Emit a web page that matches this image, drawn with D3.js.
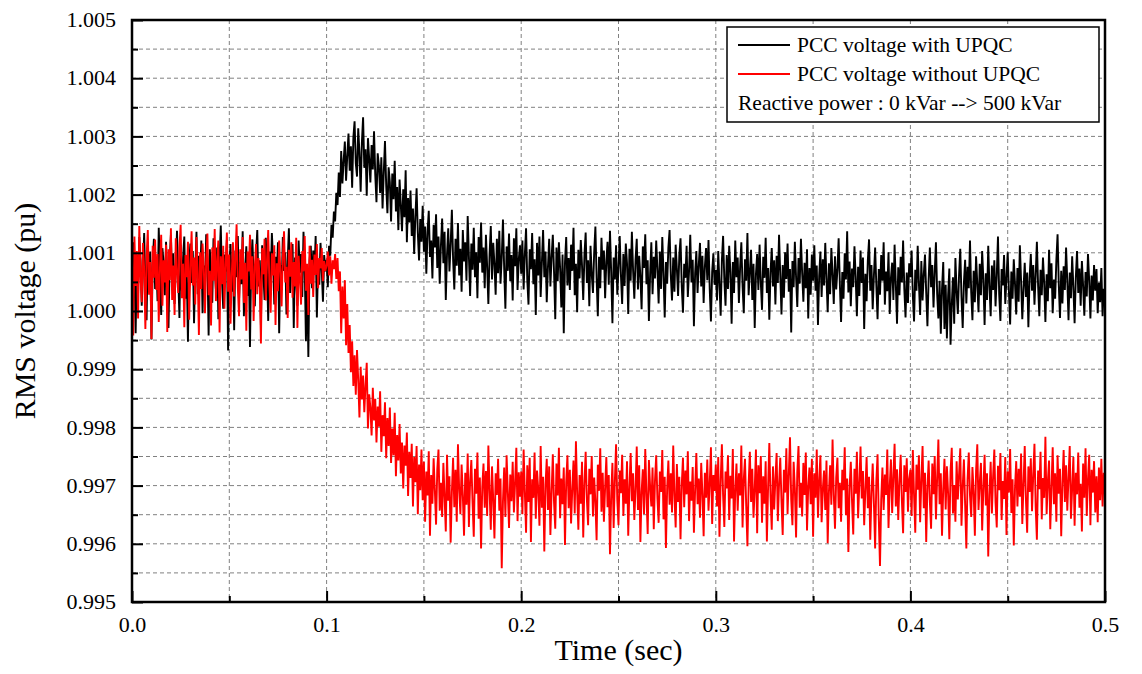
<!DOCTYPE html>
<html lang="en">
<head>
<meta charset="UTF-8">
<title>PCC RMS voltage</title>
<script src="https://d3js.org/d3.v7.min.js"></script>
<style>
    body { margin: 0; background: #fff; }
    svg { display: block; font-family: "Liberation Serif", "Times New Roman", serif; }
    .grid line { stroke: #808080; stroke-width: 1; stroke-dasharray: 4,3; }
    .axis-title { font-size: 30px; fill: #000; }
    .legend text { font-size: 21.5px; fill: #000; }
    .tick text { font-family: "Liberation Serif", "Times New Roman", serif !important; font-size: 22px !important; }
</style>
</head>
<body>
<svg></svg>
<script>
// sample period of the recorded traces (sec)
const dt = 0.000625;

// PCC voltage with UPQC (pu), one array per 0.1 s
const withUpqc1 = [
    1.00052, 1.00118, 1.00074, 0.99962, 1.00096, 1.00031, 1.00127, 1.00088, 1.00009, 1.00071,
    1.00134, 1.00046, 0.99984, 1.00112, 1.00063, 1.00102, 0.99951, 1.00079, 1.00124, 1.00038,
    1.00091, 1.00017, 1.00143, 1.00066, 0.99993, 1.00108, 1.00082, 1.00027, 1.00119, 1.00054,
    0.99971, 1.00087, 1.00131, 1.00043, 1.00099, 1.00012, 1.00076, 1.00138, 1.00059, 0.99988,
    1.00114, 1.00035, 1.00092, 1.00128, 1.00021, 1.00069, 0.99947, 1.00083, 1.00116, 1.00048,
    1.00103, 0.99979, 1.00067, 1.00136, 1.00029, 1.00095, 1.00057, 1.00121, 0.99996, 1.00078,
    1.00041, 1.00132, 1.00085, 0.99958, 1.00106, 1.00062, 1.00014, 1.00125, 1.00073, 1.00037,
    1.00109, 0.99986, 1.00089, 1.00147, 1.00051, 1.00004, 1.00097, 1.00068, 1.00122, 0.99932,
    1.00076, 1.00115, 1.00033, 1.00091, 0.99967, 1.00104, 1.00058, 1.00129, 1.00019, 1.00084,
    1.00046, 1.00137, 0.99991, 1.00072, 1.00111, 1.00026, 1.00094, 0.99938, 1.00081, 1.00123,
    1.00055, 1.00008, 1.00098, 1.00139, 1.00042, 1.00087, 0.99975, 1.00113, 1.00064, 1.00019,
    1.00126, 1.00071, 0.99983, 1.00102, 1.00047, 1.00134, 1.00089, 1.00011, 1.00093, 1.00056,
    1.00118, 0.99962, 1.00079, 1.00036, 1.00127, 1.00069, 1.00101, 0.99994, 1.00085, 1.00142,
    1.00031, 1.00074, 1.00115, 0.99971, 1.00092, 1.00053, 1.00009, 1.00121, 1.00066, 1.00098,
    1.00024, 1.00136, 1.00077, 0.99948, 1.00058, 0.99921, 1.00087, 1.00112, 1.00039, 1.00104,
    1.00062, 1.00129, 0.99989, 1.00083, 1.00045, 1.00117, 1.00071, 1.00016, 1.00096, 1.00068
];
const withUpqc2 = [
    1.00088, 1.00041, 1.00112, 1.00095, 1.00148, 1.00126, 1.00171, 1.00154, 1.00203, 1.00182,
    1.00238, 1.00196, 1.00275, 1.00219, 1.00258, 1.00291, 1.00224, 1.00267, 1.00305, 1.00241,
    1.00283, 1.00212, 1.00298, 1.00326, 1.00254, 1.00231, 1.00314, 1.00272, 1.00205, 1.00289,
    1.00333, 1.00246, 1.00278, 1.00198, 1.00297, 1.00262, 1.00221, 1.00285, 1.00243, 1.00309,
    1.00234, 1.00187, 1.00271, 1.00249, 1.00203, 1.00264, 1.00176, 1.00238, 1.00292, 1.00215,
    1.00168, 1.00247, 1.00221, 1.00154, 1.00236, 1.00192, 1.00258, 1.00171, 1.00213, 1.00139,
    1.00226, 1.00183, 1.00137, 1.00209, 1.00161, 1.00242, 1.00118, 1.00194, 1.00152, 1.00207,
    1.00129, 1.00176, 1.00098, 1.00163, 1.00211, 1.00134, 1.00087, 1.00158, 1.00119, 1.00181,
    1.00102, 1.00145, 1.00064, 1.00137, 1.00172, 1.00093, 1.00121, 1.00056, 1.00148, 1.00109,
    1.00166, 1.00074, 1.00128, 1.00047, 1.00113, 1.00159, 1.00082, 1.00136, 1.00019, 1.00097,
    1.00142, 1.00068, 1.00115, 1.00174, 1.00089, 1.00037, 1.00124, 1.00078, 1.00151, 1.00061,
    1.00107, 1.00033, 1.00139, 1.00085, 1.00118, 1.00052, 1.00163, 1.00094, 1.00026, 1.00116,
    1.00071, 1.00143, 1.00058, 1.00101, 1.00022, 1.00127, 1.00083, 1.00152, 1.00066, 1.00109,
    1.00039, 1.00131, 1.00076, 1.00012, 1.00098, 1.00146, 1.00054, 1.00117, 1.00081, 1.00028,
    1.00124, 1.00065, 1.00138, 1.00047, 1.00092, 1.00157, 1.00073, 1.00004, 1.00111, 1.00069,
    1.00133, 1.00051, 1.00096, 1.00018, 1.00125, 1.00077, 1.00142, 1.00036, 1.00089, 1.00113
];
const withUpqc3 = [
    1.00064, 1.00121, 1.00037, 1.00098, 1.00142, 1.00053, 1.00011, 1.00106, 1.00072, 1.00134,
    1.00046, 1.00089, 0.99993, 1.00117, 1.00061, 1.00128, 1.00024, 1.00083, 1.00139, 1.00058,
    1.00102, 1.00015, 1.00076, 1.00124, 1.00042, 1.00093, 1.00131, 1.00067, 0.99986, 1.00109,
    1.00051, 1.00118, 1.00073, 1.00006, 1.00097, 0.99962, 1.00084, 1.00127, 1.00044, 1.00091,
    1.00036, 1.00114, 1.00069, 1.00143, 1.00027, 1.00081, 0.99998, 1.00105, 1.00056, 1.00122,
    1.00078, 1.00019, 1.00096, 1.00135, 1.00048, 1.00087, 1.00008, 1.00112, 1.00063, 1.00031,
    1.00101, 1.00145, 1.00057, 0.99991, 1.00093, 1.00039, 1.00126, 1.00071, 1.00104, 1.00022,
    1.00086, 1.00119, 1.00045, 1.00138, 1.00066, 0.99979, 1.00092, 1.00054, 1.00113, 1.00028,
    1.00074, 1.00129, 1.00061, 1.00012, 1.00098, 1.00043, 1.00116, 1.00082, 0.99995, 1.00107,
    1.00052, 1.00136, 1.00069, 1.00021, 1.00088, 1.00124, 1.00037, 1.00095, 1.00059, 1.00003,
    1.00111, 1.00074, 1.00132, 1.00046, 1.00087, 0.99983, 1.00064, 1.00118, 1.00029, 1.00093,
    1.00056, 1.00121, 1.00071, 1.00013, 1.00102, 1.00038, 1.00127, 1.00065, 0.99989, 1.00084,
    1.00047, 1.00109, 1.00139, 1.00061, 1.00018, 1.00092, 1.00033, 1.00114, 1.00072, 1.00026,
    1.00096, 1.00125, 1.00043, 0.99997, 1.00081, 1.00057, 1.00112, 1.00024, 1.00068, 1.00131,
    1.00049, 1.00088, 0.99974, 1.00065, 1.00103, 1.00031, 1.00079, 1.00117, 1.00042, 1.00095,
    1.00014, 1.00076, 1.00108, 1.00053, 1.00122, 1.00038, 0.99982, 1.00067, 1.00099, 1.00045
];
const withUpqc4 = [
    1.00071, 1.00018, 1.00103, 1.00046, 0.99992, 1.00087, 1.00129, 1.00054, 1.00009, 1.00096,
    1.00038, 1.00112, 1.00067, 0.99978, 1.00084, 1.00031, 1.00121, 1.00058, 1.00092, 1.00014,
    1.00076, 1.00118, 1.00043, 0.99996, 1.00089, 1.00052, 1.00134, 1.00027, 1.00068, 1.00105,
    1.00019, 1.00081, 0.99971, 1.00063, 1.00098, 1.00036, 1.00114, 1.00049, 1.00002, 1.00093,
    1.00057, 1.00126, 1.00031, 1.00074, 0.99985, 1.00066, 1.00108, 1.00042, 1.00087, 1.00011,
    1.00095, 1.00048, 1.00131, 1.00062, 0.99994, 1.00079, 1.00023, 1.00101, 1.00055, 1.00116,
    1.00033, 1.00072, 0.99963, 1.00086, 1.00041, 1.00119, 1.00058, 1.00007, 1.00091, 1.00047,
    1.00124, 1.00065, 1.00016, 1.00083, 1.00039, 1.00106, 0.99987, 1.00074, 1.00028, 1.00097,
    1.00052, 1.00113, 1.00035, 1.00078, 0.99976, 1.00061, 1.00102, 1.00024, 1.00089, 1.00044,
    1.00117, 1.00056, 0.99998, 1.00082, 1.00029, 1.00108, 1.00063, 1.00012, 1.00094, 1.00037,
    1.00071, 1.00125, 1.00046, 0.99981, 1.00067, 1.00021, 1.00099, 1.00054, 1.00137, 1.00032,
    1.00085, 1.00008, 1.00073, 1.00041, 1.00111, 1.00059, 0.99991, 1.00076, 1.00026, 1.00104,
    1.00048, 1.00092, 0.99969, 1.00064, 1.00017, 1.00087, 1.00123, 1.00035, 1.00079, 1.00003,
    1.00061, 1.00109, 1.00043, 0.99986, 1.00072, 1.00028, 1.00096, 1.00052, 1.00118, 1.00011,
    1.00068, 1.00034, 1.00101, 0.99995, 1.00057, 1.00083, 1.00019, 1.00114, 1.00046, 0.99978,
    1.00075, 1.00027, 1.00093, 1.00049, 1.00121, 1.00038, 0.99989, 1.00066, 1.00014, 1.00082
];
const withUpqc5 = [
    1.00058, 1.00104, 1.00026, 0.99982, 1.00071, 1.00035, 1.00112, 1.00047, 0.99993, 1.00086,
    1.00018, 1.00063, 1.00097, 1.00031, 0.99974, 1.00055, 1.00109, 1.00041, 1.00079, 1.00006,
    1.00067, 1.00118, 1.00029, 0.99987, 1.00052, 0.99961, 1.00038, 1.00084, 0.99969, 1.00045,
    0.99953, 1.00026, 1.00073, 0.99942, 1.00011, 1.00058, 0.99978, 1.00091, 1.00034, 0.99995,
    1.00062, 1.00107, 1.00024, 0.99971, 1.00049, 1.00088, 1.00013, 1.00076, 1.00039, 1.00121,
    1.00032, 0.99984, 1.00069, 1.00015, 1.00094, 1.00046, 0.99998, 1.00081, 1.00027, 1.00103,
    1.00054, 0.99976, 1.00065, 1.00019, 1.00112, 1.00043, 0.99991, 1.00078, 1.00036, 1.00087,
    1.00008, 1.00061, 1.00128, 1.00029, 0.99983, 1.00072, 1.00044, 1.00096, 1.00012, 1.00057,
    1.00101, 1.00033, 0.99977, 1.00068, 1.00021, 1.00089, 1.00047, 0.99994, 1.00074, 1.00016,
    1.00113, 1.00052, 0.99986, 1.00039, 1.00083, 1.00024, 1.00066, 0.99972, 1.00057, 1.00098,
    1.00035, 1.00079, 1.00011, 1.00062, 1.00119, 1.00043, 0.99991, 1.00071, 1.00027, 1.00092,
    1.00048, 0.99981, 1.00063, 1.00017, 1.00105, 1.00039, 1.00082, 0.99996, 1.00054, 1.00021,
    1.00087, 1.00132, 1.00045, 0.99988, 1.00069, 1.00013, 1.00077, 1.00036, 1.00109, 1.00051,
    0.99984, 1.00066, 1.00022, 1.00094, 1.00041, 0.99979, 1.00058, 1.00103, 1.00031, 1.00073,
    1.00009, 1.00086, 1.00044, 0.99992, 1.00067, 1.00025, 1.00098, 1.00053, 0.99987, 1.00061,
    1.00018, 1.00079, 1.00035, 1.00072, 0.99996, 1.00049, 1.00015, 1.00074, 0.99991, 1.00038,
    1.00027
];

// PCC voltage without UPQC (pu)
const withoutUpqc1 = [
    1.00091, 0.99958, 1.00128, 1.00043, 1.00103, 0.99987, 1.00146, 1.00061, 1.00015, 1.00117,
    1.00072, 0.99969, 1.00094, 1.00139, 1.00028, 1.00084, 0.99952, 1.00112, 1.00057, 1.00123,
    1.00036, 1.00098, 0.99981, 1.00075, 1.00131, 1.00009, 1.00087, 1.00049, 1.00114, 0.99964,
    1.00106, 1.00053, 1.00142, 1.00019, 1.00078, 0.99993, 1.00125, 1.00067, 1.00031, 1.00109,
    1.00148, 1.00022, 1.00081, 0.99972, 1.00096, 1.00058, 1.00119, 0.99985, 1.00073, 1.00137,
    1.00044, 1.00092, 1.00011, 1.00127, 1.00065, 0.99959, 1.00101, 1.00038, 1.00116, 1.00076,
    0.99996, 1.00088, 1.00133, 1.00027, 1.00069, 0.99975, 1.00109, 1.00052, 1.00141, 1.00017,
    1.00085, 1.00121, 0.99963, 1.00094, 1.00046, 1.00112, 1.00004, 1.00079, 1.00135, 1.00033,
    1.00097, 0.99978, 1.00062, 1.00118, 1.00025, 1.00089, 1.00149, 1.00041, 0.99991, 1.00106,
    1.00054, 1.00127, 1.00014, 1.00083, 0.99966, 1.00102, 1.00068, 1.00131, 1.00037, 1.00094,
    0.99983, 1.00076, 1.00115, 1.00029, 1.00091, 1.00052, 0.99944, 1.00108, 1.00063, 1.00124,
    1.00018, 1.00087, 1.00139, 1.00045, 0.99997, 1.00099, 1.00061, 1.00113, 0.99976, 1.00082,
    1.00034, 1.00121, 1.00066, 1.00008, 1.00093, 1.00137, 1.00049, 1.00076, 0.99988, 1.00105,
    1.00059, 1.00118, 1.00023, 1.00084, 1.00042, 1.00126, 0.99971, 1.00095, 1.00057, 1.00011,
    1.00103, 1.00068, 1.00129, 1.00035, 1.00081, 0.99993, 1.00112, 1.00047, 1.00088, 1.00024,
    1.00097, 1.00062, 1.00115, 1.00039, 1.00091, 1.00073, 1.00108, 1.00051, 1.00086, 1.00069
];
const withoutUpqc2 = [
    1.00078, 1.00102, 1.00061, 1.00094, 1.00047, 1.00087, 1.00072, 1.00098, 1.00055, 1.00091,
    1.00034, 1.00068, 0.99962, 1.00042, 0.99987, 1.00053, 0.99941, 1.00012, 0.99928, 0.99976,
    0.99895, 0.99948, 0.99871, 0.99924, 0.99856, 0.99933, 0.99882, 0.99817, 0.99904, 0.99848,
    0.99889, 0.99826, 0.99872, 0.99911, 0.99798, 0.99857, 0.99834, 0.99786, 0.99868, 0.99812,
    0.99849, 0.99774, 0.99836, 0.99801, 0.99862, 0.99758, 0.99821, 0.99785, 0.99843, 0.99747,
    0.99816, 0.99768, 0.99834, 0.99739, 0.99798, 0.99752, 0.99825, 0.99716, 0.99787, 0.99743,
    0.99806, 0.99721, 0.99774, 0.99695, 0.99769, 0.99734, 0.99791, 0.99682, 0.99758, 0.99713,
    0.99772, 0.99664, 0.99749, 0.99706, 0.99768, 0.99651, 0.99736, 0.99692, 0.99762, 0.99675,
    0.99741, 0.99638, 0.99724, 0.99683, 0.99759, 0.99614, 0.99718, 0.99669, 0.99747, 0.99692,
    0.99633, 0.99728, 0.99762, 0.99657, 0.99705, 0.99646, 0.99739, 0.99681, 0.99621, 0.99753,
    0.99674, 0.99716, 0.99602, 0.99689, 0.99748, 0.99663, 0.99727, 0.99638, 0.99771, 0.99694,
    0.99651, 0.99736, 0.99683, 0.99614, 0.99722, 0.99667, 0.99755, 0.99629, 0.99708, 0.99744,
    0.99671, 0.99612, 0.99729, 0.99686, 0.99757, 0.99643, 0.99714, 0.99592, 0.99698, 0.99738,
    0.99662, 0.99725, 0.99648, 0.99769, 0.99691, 0.99624, 0.99733, 0.99676, 0.99609, 0.99721,
    0.99684, 0.99746, 0.99657, 0.99712, 0.99558, 0.99673, 0.99731, 0.99646, 0.99752, 0.99688,
    0.99627, 0.99719, 0.99673, 0.99741, 0.99654, 0.99706, 0.99765, 0.99639, 0.99723, 0.99681
];
const withoutUpqc3 = [
    0.99724, 0.99651, 0.99762, 0.99688, 0.99619, 0.99735, 0.99672, 0.99748, 0.99603, 0.99711,
    0.99679, 0.99757, 0.99643, 0.99726, 0.99694, 0.99631, 0.99768, 0.99662, 0.99715, 0.99587,
    0.99702, 0.99746, 0.99658, 0.99733, 0.99615, 0.99689, 0.99754, 0.99671, 0.99626, 0.99738,
    0.99683, 0.99765, 0.99644, 0.99712, 0.99668, 0.99731, 0.99598, 0.99706, 0.99752, 0.99661,
    0.99727, 0.99635, 0.99694, 0.99743, 0.99652, 0.99776, 0.99687, 0.99624, 0.99718, 0.99669,
    0.99741, 0.99611, 0.99703, 0.99758, 0.99676, 0.99632, 0.99729, 0.99685, 0.99751, 0.99647,
    0.99714, 0.99672, 0.99606, 0.99736, 0.99691, 0.99764, 0.99655, 0.99722, 0.99638, 0.99697,
    0.99749, 0.99663, 0.99718, 0.99582, 0.99684, 0.99739, 0.99627, 0.99708, 0.99771, 0.99675,
    0.99632, 0.99726, 0.99687, 0.99753, 0.99648, 0.99711, 0.99669, 0.99742, 0.99614, 0.99698,
    0.99756, 0.99673, 0.99721, 0.99641, 0.99694, 0.99767, 0.99658, 0.99735, 0.99603, 0.99689,
    0.99728, 0.99651, 0.99763, 0.99682, 0.99617, 0.99744, 0.99698, 0.99664, 0.99731, 0.99625,
    0.99709, 0.99752, 0.99678, 0.99636, 0.99724, 0.99689, 0.99761, 0.99642, 0.99715, 0.99593,
    0.99696, 0.99743, 0.99667, 0.99721, 0.99654, 0.99769, 0.99683, 0.99628, 0.99737, 0.99672,
    0.99715, 0.99608, 0.99701, 0.99748, 0.99663, 0.99726, 0.99685, 0.99759, 0.99639, 0.99707,
    0.99674, 0.99732, 0.99619, 0.99693, 0.99756, 0.99668, 0.99712, 0.99645, 0.99739, 0.99686,
    0.99613, 0.99722, 0.99679, 0.99745, 0.99657, 0.99703, 0.99766, 0.99634, 0.99718, 0.99691
];
const withoutUpqc4 = [
    0.99736, 0.99664, 0.99749, 0.99612, 0.99708, 0.99771, 0.99683, 0.99629, 0.99724, 0.99695,
    0.99752, 0.99641, 0.99717, 0.99678, 0.99763, 0.99604, 0.99692, 0.99738, 0.99657, 0.99721,
    0.99683, 0.99769, 0.99628, 0.99711, 0.99746, 0.99665, 0.99596, 0.99703, 0.99758, 0.99672,
    0.99729, 0.99645, 0.99694, 0.99762, 0.99618, 0.99735, 0.99687, 0.99751, 0.99636, 0.99716,
    0.99669, 0.99742, 0.99604, 0.99698, 0.99773, 0.99681, 0.99624, 0.99733, 0.99659, 0.99712,
    0.99756, 0.99639, 0.99702, 0.99748, 0.99673, 0.99615, 0.99727, 0.99688, 0.99764, 0.99651,
    0.99718, 0.99783, 0.99676, 0.99632, 0.99741, 0.99695, 0.99611, 0.99724, 0.99768, 0.99662,
    0.99705, 0.99647, 0.99739, 0.99684, 0.99757, 0.99623, 0.99698, 0.99731, 0.99668, 0.99746,
    0.99612, 0.99721, 0.99679, 0.99762, 0.99645, 0.99708, 0.99752, 0.99637, 0.99694, 0.99726,
    0.99658, 0.99743, 0.99601, 0.99689, 0.99735, 0.99667, 0.99779, 0.99684, 0.99626, 0.99714,
    0.99748, 0.99661, 0.99705, 0.99638, 0.99727, 0.99692, 0.99766, 0.99649, 0.99712, 0.99586,
    0.99697, 0.99741, 0.99673, 0.99616, 0.99729, 0.99686, 0.99758, 0.99644, 0.99703, 0.99767,
    0.99678, 0.99725, 0.99632, 0.99694, 0.99749, 0.99661, 0.99715, 0.99607, 0.99687, 0.99738,
    0.99669, 0.99592, 0.99708, 0.99754, 0.99643, 0.99562, 0.99676, 0.99731, 0.99658, 0.99719,
    0.99684, 0.99762, 0.99627, 0.99699, 0.99745, 0.99653, 0.99716, 0.99772, 0.99664, 0.99728,
    0.99641, 0.99706, 0.99753, 0.99674, 0.99618, 0.99735, 0.99689, 0.99747, 0.99655, 0.99712
];
const withoutUpqc5 = [
    0.99727, 0.99648, 0.99761, 0.99684, 0.99619, 0.99736, 0.99693, 0.99752, 0.99637, 0.99709,
    0.99768, 0.99661, 0.99722, 0.99603, 0.99697, 0.99743, 0.99672, 0.99626, 0.99738, 0.99685,
    0.99751, 0.99642, 0.99713, 0.99779, 0.99668, 0.99721, 0.99614, 0.99694, 0.99746, 0.99659,
    0.99733, 0.99687, 0.99608, 0.99724, 0.99765, 0.99652, 0.99701, 0.99638, 0.99742, 0.99676,
    0.99719, 0.99764, 0.99631, 0.99698, 0.99745, 0.99667, 0.99592, 0.99711, 0.99757, 0.99683,
    0.99646, 0.99732, 0.99689, 0.99614, 0.99726, 0.99771, 0.99658, 0.99704, 0.99739, 0.99623,
    0.99695, 0.99753, 0.99666, 0.99721, 0.99578, 0.99685, 0.99741, 0.99652, 0.99716, 0.99762,
    0.99671, 0.99628, 0.99734, 0.99692, 0.99756, 0.99641, 0.99708, 0.99677, 0.99749, 0.99615,
    0.99724, 0.99688, 0.99763, 0.99653, 0.99711, 0.99597, 0.99696, 0.99742, 0.99664, 0.99729,
    0.99681, 0.99755, 0.99634, 0.99702, 0.99768, 0.99675, 0.99619, 0.99733, 0.99689, 0.99747,
    0.99656, 0.99718, 0.99772, 0.99663, 0.99607, 0.99726, 0.99694, 0.99758, 0.99642, 0.99713,
    0.99679, 0.99784, 0.99651, 0.99706, 0.99743, 0.99625, 0.99697, 0.99766, 0.99668, 0.99721,
    0.99638, 0.99752, 0.99686, 0.99729, 0.99613, 0.99704, 0.99761, 0.99672, 0.99735, 0.99657,
    0.99714, 0.99768, 0.99643, 0.99696, 0.99749, 0.99631, 0.99722, 0.99685, 0.99757, 0.99662,
    0.99703, 0.99621, 0.99738, 0.99679, 0.99764, 0.99648, 0.99711, 0.99753, 0.99632, 0.99727,
    0.99688, 0.99742, 0.99654, 0.99716, 0.99637, 0.99731, 0.99675, 0.99746, 0.99664, 0.99722,
    0.99695
];

const xTicks = [0, 0.1, 0.2, 0.3, 0.4, 0.5];
const yTicks = [0.995, 0.996, 0.997, 0.998, 0.999, 1.000, 1.001, 1.002, 1.003, 1.004, 1.005];

const legendItems = [
    { label: "PCC voltage with UPQC", color: "#000000" },
    { label: "PCC voltage without UPQC", color: "#ff0000" }
];
const legendNote = "Reactive power : 0 kVar --> 500 kVar";

const width = 1142, height = 674;
const margin = { top: 20, right: 37, bottom: 72, left: 132 };
const plotW = width - margin.left - margin.right;
const plotH = height - margin.top - margin.bottom;
const serif = "Liberation Serif, Times New Roman, serif";

const svg = d3.select("svg").attr("width", width).attr("height", height);

const x = d3.scaleLinear().domain([0, 0.5]).range([0, plotW]);
const y = d3.scaleLinear().domain([0.995, 1.005]).range([plotH, 0]);

const g = svg.append("g").attr("transform", `translate(${margin.left},${margin.top})`);

// grid every minor step
const xGrid = d3.range(1, 10).map(i => i * 0.05);
const yGrid = d3.range(1, 20).map(i => 0.995 + i * 0.0005);

const grid = g.append("g").attr("class", "grid");
grid.selectAll(".gx").data(xGrid).enter().append("line")
    .attr("x1", d => x(d)).attr("x2", d => x(d))
    .attr("y1", 0).attr("y2", plotH);
grid.selectAll(".gy").data(yGrid).enter().append("line")
    .attr("x1", 0).attr("x2", plotW)
    .attr("y1", d => y(d)).attr("y2", d => y(d));

// traces
svg.append("defs").append("clipPath").attr("id", "clip")
    .append("rect").attr("width", plotW).attr("height", plotH);

const series = [
    { values: [].concat(withUpqc1, withUpqc2, withUpqc3, withUpqc4, withUpqc5), color: "#000000" },
    { values: [].concat(withoutUpqc1, withoutUpqc2, withoutUpqc3, withoutUpqc4, withoutUpqc5), color: "#ff0000" }
];

const line = d3.line()
    .x((d, i) => x(i * dt))
    .y(d => y(d));

g.append("g").attr("clip-path", "url(#clip)")
    .selectAll("path").data(series).enter().append("path")
    .attr("d", d => line(d.values))
    .attr("fill", "none")
    .attr("stroke", d => d.color)
    .attr("stroke-width", 1.9)
    .attr("stroke-linejoin", "miter")
    .attr("stroke-miterlimit", 2);

// axes: ticks drawn inward
const xAxis = d3.axisBottom(x).tickValues(xTicks).tickSize(-11).tickFormat(d3.format(".1f")).tickPadding(0);
const xMinor = d3.axisBottom(x).tickValues(xGrid.filter((d, i) => i % 2 === 0)).tickSize(-6).tickFormat("");
const yAxis = d3.axisLeft(y).tickValues(yTicks).tickSize(-11).tickFormat(d3.format(".3f")).tickPadding(0);
const yMinor = d3.axisLeft(y).tickValues(yGrid.filter((d, i) => i % 2 === 0)).tickSize(-6).tickFormat("");

function styleAxis(sel) {
    sel.attr("font-family", serif).attr("font-size", 22);
    sel.select(".domain").remove();
    sel.selectAll(".tick line").attr("stroke", "#000").attr("stroke-width", 2);
    sel.selectAll(".tick text").attr("fill", "#000")
        .style("font-family", serif).style("font-size", "22px");
}

g.append("g").attr("transform", `translate(0,${plotH})`).call(xMinor).call(styleAxis);
g.append("g").attr("transform", `translate(0,${plotH})`).call(xAxis).call(styleAxis)
    .selectAll(".tick text").attr("dy", null).attr("y", 30);
g.append("g").call(yMinor).call(styleAxis);
g.append("g").call(yAxis).call(styleAxis)
    .selectAll(".tick text").attr("x", -16).attr("dy", "0.3em");

// frame
g.append("rect")
    .attr("width", plotW).attr("height", plotH)
    .attr("fill", "none").attr("stroke", "#000").attr("stroke-width", 2.5);

// axis titles
svg.append("text").attr("class", "axis-title")
    .attr("x", margin.left + plotW / 2).attr("y", 660)
    .attr("text-anchor", "middle")
    .text("Time (sec)");
svg.append("text").attr("class", "axis-title")
    .attr("transform", `translate(35,${margin.top + plotH / 2}) rotate(-90)`)
    .attr("text-anchor", "middle")
    .text("RMS voltage (pu)");

// legend
const lg = svg.append("g").attr("class", "legend").attr("transform", "translate(727,27)");
lg.append("rect").attr("width", 372).attr("height", 95)
    .attr("fill", "#fff").attr("stroke", "#000").attr("stroke-width", 1.5);
legendItems.forEach((d, i) => {
    const cy = 18 + i * 29;
    lg.append("line").attr("x1", 11).attr("x2", 63).attr("y1", cy).attr("y2", cy)
        .attr("stroke", d.color).attr("stroke-width", 2);
    lg.append("text").attr("x", 70).attr("y", cy + 7).text(d.label);
});
lg.append("text").attr("x", 11).attr("y", 18 + 2 * 29 + 7).text(legendNote);
</script>
</body>
</html>
